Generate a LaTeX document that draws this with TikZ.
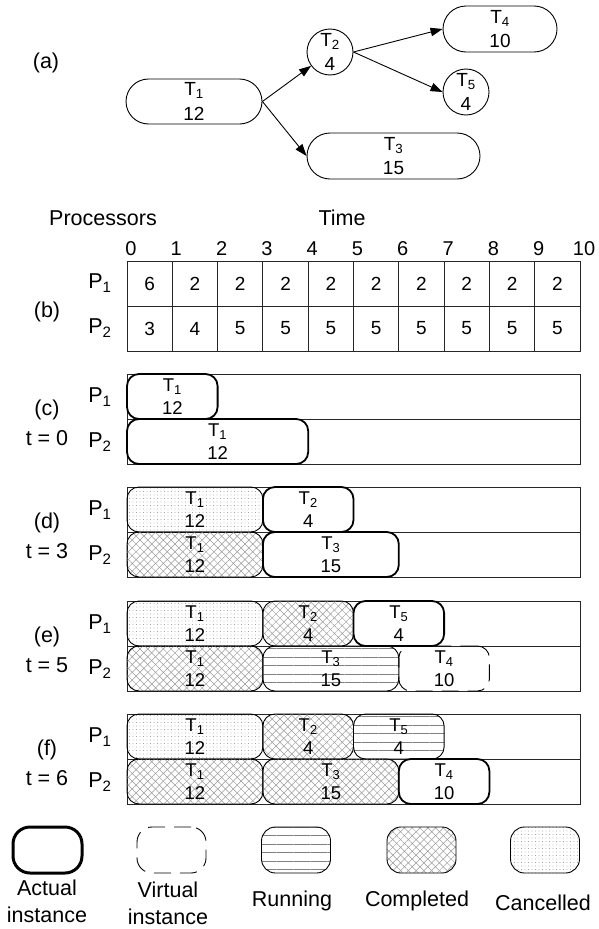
\documentclass[tikz,border=0pt]{standalone}
\usepackage{fontspec}
\setmainfont{Liberation Sans}
\usetikzlibrary{shapes.misc,arrows.meta,patterns.meta}

% one Gantt slot: style, name, top y, first column, last column, task index, cost
\newcommand\slot[7]{%
  \node[#1, anchor=north west, minimum width={45.3*(#5-#4)*1pt}] (#2)
    at ({127+45.3*#4}, #3) {T\textsubscript{#6}\\#7};}

\tikzset{
  lbl/.style={font=\fontsize{21.5}{27}\selectfont, inner sep=0pt, align=center},
  ticklbl/.style={font=\fontsize{20}{24}\selectfont, inner sep=0pt},
  cellnum/.style={font=\fontsize{19}{23}\selectfont, inner sep=0pt},
  tasktxt/.style={font=\fontsize{18.5}{22.5}\selectfont, align=center},
  gnode/.style={draw, line width=0.9pt, rounded rectangle, inner sep=0pt,
    minimum height=46pt, align=center, font=\fontsize{19}{24.5}\selectfont},
  gcirc/.style={draw, line width=0.9pt, circle, inner sep=0pt,
    minimum size=46pt, align=center, font=\fontsize{19}{24.5}\selectfont},
  arr/.style={line width=0.9pt, -{Triangle[length=12pt,width=8.5pt]}},
  frame/.style={draw=black!85, line width=0.9pt},
  slotbox/.style={rectangle, rounded corners=12pt, inner sep=0pt, outer sep=0pt,
    minimum height=45pt, tasktxt},
  actual/.style={slotbox, draw, line width=1.8pt},
  virtual/.style={slotbox, draw, line width=0.9pt, dash pattern=on 17pt off 9pt},
  running/.style={slotbox, draw, line width=0.9pt,
    pattern={Lines[angle=0,distance=8.5pt,line width=0.9pt]}, pattern color=black!50},
  completed/.style={slotbox, draw, line width=0.9pt,
    pattern={Lines[angle=45,distance=5.5pt,line width=0.5pt]}, pattern color=black!40,
    preaction={pattern={Lines[angle=-45,distance=5.5pt,line width=0.5pt]}, pattern color=black!40}},
  cancelled/.style={slotbox, draw, line width=0.9pt,
    pattern={Dots[distance=3.5pt,radius=0.45pt]}, pattern color=black!55},
  legbox/.style={minimum width=69pt, minimum height=46pt, rounded corners=15pt},
}

\begin{document}
\begin{tikzpicture}[x=1pt, y=-1pt]
\useasboundingbox (0,0) rectangle (598,929);

% ---------- (a) task graph ----------
\node[lbl] (la) at (46,63) {(a)};
\node[gnode, minimum width=136pt, minimum height=45pt] (T1) at (194,101.5) {T\textsubscript{1}\\12};
\node[gcirc] (T2) at (330,52) {T\textsubscript{2}\\4};
\node[gnode, minimum width=114pt] (T4) at (500,29) {T\textsubscript{4}\\10};
\node[gcirc] (T5) at (466,92) {T\textsubscript{5}\\4};
\node[gnode, minimum width=173pt] (T3) at (393.5,156) {T\textsubscript{3}\\15};
\draw[arr] (T1.east) -- (T2);
\draw[arr] (T1.east) -- (T3.west);
\draw[arr] (T2.east) -- (T4.west);
\draw[arr] (T2.east) -- (T5.west);

% ---------- (b) processor speeds over time ----------
\node[lbl] (hproc) at (103,218) {Processors};
\node[lbl] (htime) at (342,218) {Time};
\foreach \i in {0,...,10}
  \node[ticklbl] (tk\i) at ({131+45.3*\i},249) {\i};
\draw[frame] (127,261) rectangle (580,351);
\draw[frame] (127,306) -- (580,306);
\foreach \i in {1,...,9}
  \draw[frame] ({127+45.3*\i},261) -- ({127+45.3*\i},351);
\foreach \v [count=\i from 0] in {6,2,2,2,2,2,2,2,2,2}
  \node[cellnum] (sa\i) at ({127+45.3*(\i+0.5)},283.5) {\v};
\foreach \v [count=\i from 0] in {3,4,5,5,5,5,5,5,5,5}
  \node[cellnum] (sb\i) at ({127+45.3*(\i+0.5)},328.5) {\v};
\node[lbl] (lb) at (47,312) {(b)};
\node[lbl] (bp1) at (100,283) {P\textsubscript{1}};
\node[lbl] (bp2) at (100,328) {P\textsubscript{2}};

% ---------- schedule snapshots ----------
\foreach \top/\tag/\tm in {374/c/0, 487/d/3, 601/e/5, 714/f/6} {
  \draw[frame] (127,\top) rectangle (580,\top+90);
  \draw[frame] (127,\top+45) -- (580,\top+45);
  \node[lbl] (l\tag) at (47,\top+36) {(\tag)};
  \node[lbl] (t\tag) at (47,\top+64) {t = \tm};
  \node[lbl] (p1\tag) at (100,\top+23) {P\textsubscript{1}};
  \node[lbl] (p2\tag) at (100,\top+68) {P\textsubscript{2}};
}

% (c) t = 0
\slot{actual}{c11}{374}{0}{2}{1}{12}
\slot{actual}{c21}{419}{0}{4}{1}{12}

% (d) t = 3
\slot{cancelled}{d11}{487}{0}{3}{1}{12}
\slot{actual}{d12}{487}{3}{5}{2}{4}
\slot{completed}{d21}{532}{0}{3}{1}{12}
\slot{actual}{d23}{532}{3}{6}{3}{15}

% (e) t = 5
\slot{cancelled}{e11}{601}{0}{3}{1}{12}
\slot{completed}{e12}{601}{3}{5}{2}{4}
\slot{actual}{e15}{601}{5}{7}{5}{4}
\slot{completed}{e21}{646}{0}{3}{1}{12}
\slot{running}{e23}{646}{3}{6}{3}{15}
\slot{virtual}{e24}{646}{6}{8}{4}{10}

% (f) t = 6
\slot{cancelled}{f11}{714}{0}{3}{1}{12}
\slot{completed}{f12}{714}{3}{5}{2}{4}
\slot{running}{f15}{714}{5}{7}{5}{4}
\slot{completed}{f21}{759}{0}{3}{1}{12}
\slot{completed}{f23}{759}{3}{6}{3}{15}
\slot{actual}{f24}{759}{6}{8}{4}{10}

% ---------- legend ----------
\node[draw, line width=3pt, legbox, rounded corners=17pt] (kA) at (47.5,850) {};
\node[draw, line width=0.9pt, legbox, dash pattern=on 17pt off 9pt] (kV) at (171.5,850) {};
\node[running, legbox, rounded corners=14pt] (kR) at (296,850) {};
\node[completed, legbox, rounded corners=14pt] (kC) at (421.5,850) {};
\node[cancelled, legbox, rounded corners=14pt] (kX) at (545,850) {};
\node[lbl] (kAt) at (47,901.5) {Actual\\instance};
\node[lbl] (kVt) at (168,903.5) {Virtual\\instance};
\node[lbl] (kRt) at (292,901) {Running};
\node[lbl] (kCt) at (417,901) {Completed};
\node[lbl] (kXt) at (543,903) {Cancelled};
\end{tikzpicture}
\end{document}
